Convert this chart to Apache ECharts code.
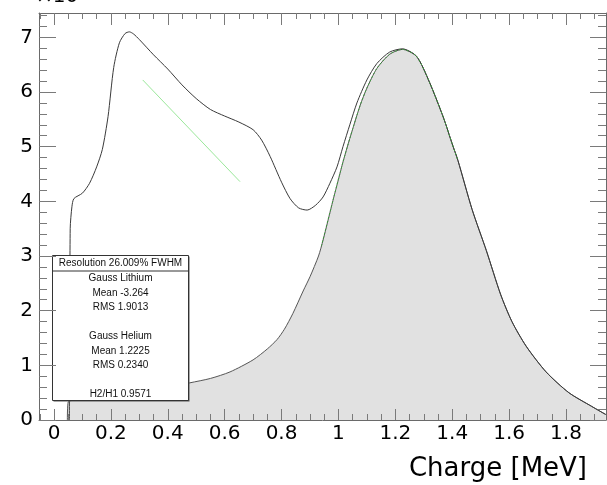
<!DOCTYPE html>
<html>
<head>
<meta charset="utf-8">
<script src="https://cdn.jsdelivr.net/npm/echarts@6/dist/echarts.min.js"></script>
<style>
html,body{margin:0;padding:0;background:#fff;}
#chart{width:607px;height:485px;}
</style>
</head>
<body>
<div id="chart"></div>
<script>
// ---- data ----
const xMajorTicks = [0, 0.2, 0.4, 0.6, 0.8, 1.0, 1.2, 1.4, 1.6, 1.8];
const yMajorTicks = [0, 1, 2, 3, 4, 5, 6, 7];
const xTitle = 'Charge [MeV]';
const yExponent = '×10³';

// total spectrum (black outline)
const totalData = [
  [0.054,0],[0.057,3.5],[0.063,3.9],[0.07,4.05],[0.10,4.15],[0.125,4.33],[0.15,4.63],[0.17,4.95],
  [0.19,5.55],[0.21,6.45],[0.23,6.9],[0.25,7.07],[0.265,7.1],[0.28,7.06],[0.30,6.96],[0.35,6.68],
  [0.40,6.42],[0.45,6.13],[0.50,5.88],[0.55,5.68],[0.60,5.56],[0.65,5.45],[0.70,5.31],[0.73,5.12],
  [0.76,4.82],[0.80,4.35],[0.83,4.05],[0.86,3.88],[0.89,3.84],[0.92,3.93],[0.946,4.08],[0.97,4.33],
  [0.995,4.63],[1.016,5.0],[1.04,5.4],[1.065,5.8],[1.10,6.22],[1.135,6.52],[1.18,6.73],[1.225,6.79],
  [1.275,6.65],[1.32,6.18],[1.37,5.52],[1.40,5.05],[1.42,4.75],[1.47,3.85],[1.52,3.1],[1.57,2.3],
  [1.61,1.8],[1.66,1.35],[1.73,0.88],[1.81,0.5],[1.89,0.25],[1.94,0.1]
];

// helium component (grey filled histogram)
const heliumData = [
  [0.047,0],[0.05,0.33],[0.10,0.37],[0.20,0.43],[0.30,0.5],[0.40,0.59],[0.478,0.68],[0.55,0.76],
  [0.619,0.88],[0.70,1.10],[0.75,1.30],[0.784,1.47],[0.81,1.66],[0.84,1.95],[0.876,2.36],[0.90,2.62],
  [0.93,3.0],[0.946,3.29],[0.981,4.02],[1.0,4.4],[1.016,4.72],[1.04,5.15],[1.076,5.75],[1.10,6.07],
  [1.135,6.43],[1.18,6.69],[1.225,6.78],[1.275,6.65],[1.32,6.18],[1.37,5.52],[1.40,5.05],[1.42,4.75],
  [1.47,3.85],[1.52,3.1],[1.57,2.3],[1.61,1.8],[1.66,1.35],[1.73,0.88],[1.81,0.5],[1.89,0.25],[1.94,0.1]
];

// gaussian fit on helium peak (green dashed)
const heliumFit = [
  [0.94,3.18],[0.981,4.02],[1.016,4.72],[1.04,5.15],[1.076,5.75],[1.10,6.07],[1.135,6.43],[1.18,6.69],
  [1.225,6.78],[1.275,6.65],[1.32,6.18],[1.37,5.52],[1.40,5.05],[1.42,4.75]
];

// lithium fit (light green line)
const lithiumFit = [[0.312,6.22],[0.654,4.36]];

// stats box text
const statsHeader = 'Resolution 26.009% FWHM';
const statsLines = ['Gauss Lithium','Mean -3.264','RMS 1.9013','','Gauss Helium','Mean 1.2225','RMS 0.2340','','H2/H1 0.9571'];

// ---- axis ranges ----
const X_MIN = -0.0527, X_MAX = 1.9407;
const Y_MIN = 0, Y_MAX = 7.445;

const xMinorTicks = [];
for (let k = -1; k <= 38; k++) {
  if (k % 4 === 0) continue;
  const v = Math.round(k * 0.05 * 1000) / 1000;
  if (v > X_MIN && v < X_MAX) xMinorTicks.push(v);
}
const yMinorTicks = [];
for (let k = 1; k <= 37; k++) {
  if (k % 5 === 0) continue;
  const v = Math.round(k * 0.2 * 1000) / 1000;
  if (v < Y_MAX) yMinorTicks.push(v);
}

const FONT = 'DejaVu Sans';
const AX_COLOR = '#6a6a6a';
const TICK_COLOR = '#7a7a7a';

function xAx(pos, ticks, len, showLine, showLabels) {
  return {
    type: 'value', position: pos, min: X_MIN, max: X_MAX, z: 10,
    splitLine: {show: false},
    axisLine: {show: showLine, onZero: false, lineStyle: {color: AX_COLOR, width: 1}},
    axisTick: {show: true, inside: true, length: len, customValues: ticks, lineStyle: {color: TICK_COLOR, width: 1}},
    axisLabel: showLabels ? {show: true, customValues: ticks, fontFamily: FONT, fontSize: 20, color: '#000', margin: 4} : {show: false}
  };
}
function yAx(pos, ticks, len, showLine, showLabels) {
  return {
    type: 'value', position: pos, min: Y_MIN, max: Y_MAX, z: 10,
    splitLine: {show: false},
    axisLine: {show: showLine, onZero: false, lineStyle: {color: AX_COLOR, width: 1}},
    axisTick: {show: true, inside: true, length: len, customValues: ticks, lineStyle: {color: TICK_COLOR, width: 1}},
    axisLabel: showLabels ? {show: true, customValues: ticks, fontFamily: FONT, fontSize: 20, color: '#000', margin: 6} : {show: false}
  };
}

const boxL = 52.5, boxT = 255.5, boxW = 136, boxH = 145, headH = 15.5;
const graphics = [
  {type: 'rect', z: 5, shape: {x: boxL + 1, y: boxT + 1, width: boxW, height: boxH}, style: {fill: '#555'}},
  {type: 'rect', z: 6, shape: {x: boxL, y: boxT, width: boxW, height: boxH}, style: {fill: '#fff', stroke: '#333', lineWidth: 1}},
  {type: 'line', z: 7, shape: {x1: boxL, y1: boxT + headH, x2: boxL + boxW, y2: boxT + headH}, style: {stroke: '#333', lineWidth: 1}},
  {type: 'text', z: 7, style: {text: statsHeader, x: boxL + boxW / 2, y: 263, textAlign: 'center', textVerticalAlign: 'middle', fontFamily: 'Liberation Sans', fontSize: 10, fill: '#111'}},
  {type: 'text', z: 7, style: {text: yExponent, x: 36, y: 7, textAlign: 'left', textVerticalAlign: 'bottom', fontFamily: FONT, fontSize: 20, fill: '#000'}},
  {type: 'text', z: 7, style: {text: xTitle, x: 587, y: 469, textAlign: 'right', textVerticalAlign: 'middle', fontFamily: FONT, fontSize: 26, fill: '#000'}}
];
statsLines.forEach(function (t, i) {
  if (!t) return;
  graphics.push({type: 'text', z: 7, style: {text: t, x: boxL + boxW / 2, y: 278.3 + i * 14.55, textAlign: 'center', textVerticalAlign: 'middle', fontFamily: 'Liberation Sans', fontSize: 10, fill: '#111'}});
});

const chart = echarts.init(document.getElementById('chart'), null, {renderer: 'canvas'});
chart.setOption({
  animation: false,
  backgroundColor: '#fff',
  grid: {left: 39, right: 1, top: 13, bottom: 65, containLabel: false},
  xAxis: [
    xAx('bottom', xMajorTicks, 11, true, true),
    xAx('bottom', xMinorTicks, 6, false, false),
    xAx('top', xMajorTicks, 12, true, false),
    xAx('top', xMinorTicks, 6, false, false)
  ],
  yAxis: [
    yAx('left', yMajorTicks, 17, true, true),
    yAx('left', yMinorTicks, 8, false, false),
    yAx('right', yMajorTicks, 16, true, false),
    yAx('right', yMinorTicks, 8, false, false)
  ],
  series: [
    {type: 'line', name: 'Helium', data: heliumData, xAxisIndex: 0, yAxisIndex: 0, showSymbol: false, z: 2,
     smooth: 0.25,
     lineStyle: {color: '#555', width: 1}, areaStyle: {color: '#e1e1e1', opacity: 1}},
    {type: 'line', name: 'Total', data: totalData, xAxisIndex: 0, yAxisIndex: 0, showSymbol: false, z: 3,
     smooth: 0.25,
     lineStyle: {color: '#3a3a3a', width: 1}},
    {type: 'line', name: 'HeliumFit', data: heliumFit, xAxisIndex: 0, yAxisIndex: 0, showSymbol: false, z: 4,
     smooth: 0.25,
     lineStyle: {color: '#3d9b3d', width: 1, type: [2, 2]}},
    {type: 'line', name: 'LithiumFit', data: lithiumFit, xAxisIndex: 0, yAxisIndex: 0, showSymbol: false, z: 4,
     lineStyle: {color: '#9be89b', width: 1}}
  ],
  graphic: {elements: graphics}
});
</script>
</body>
</html>
